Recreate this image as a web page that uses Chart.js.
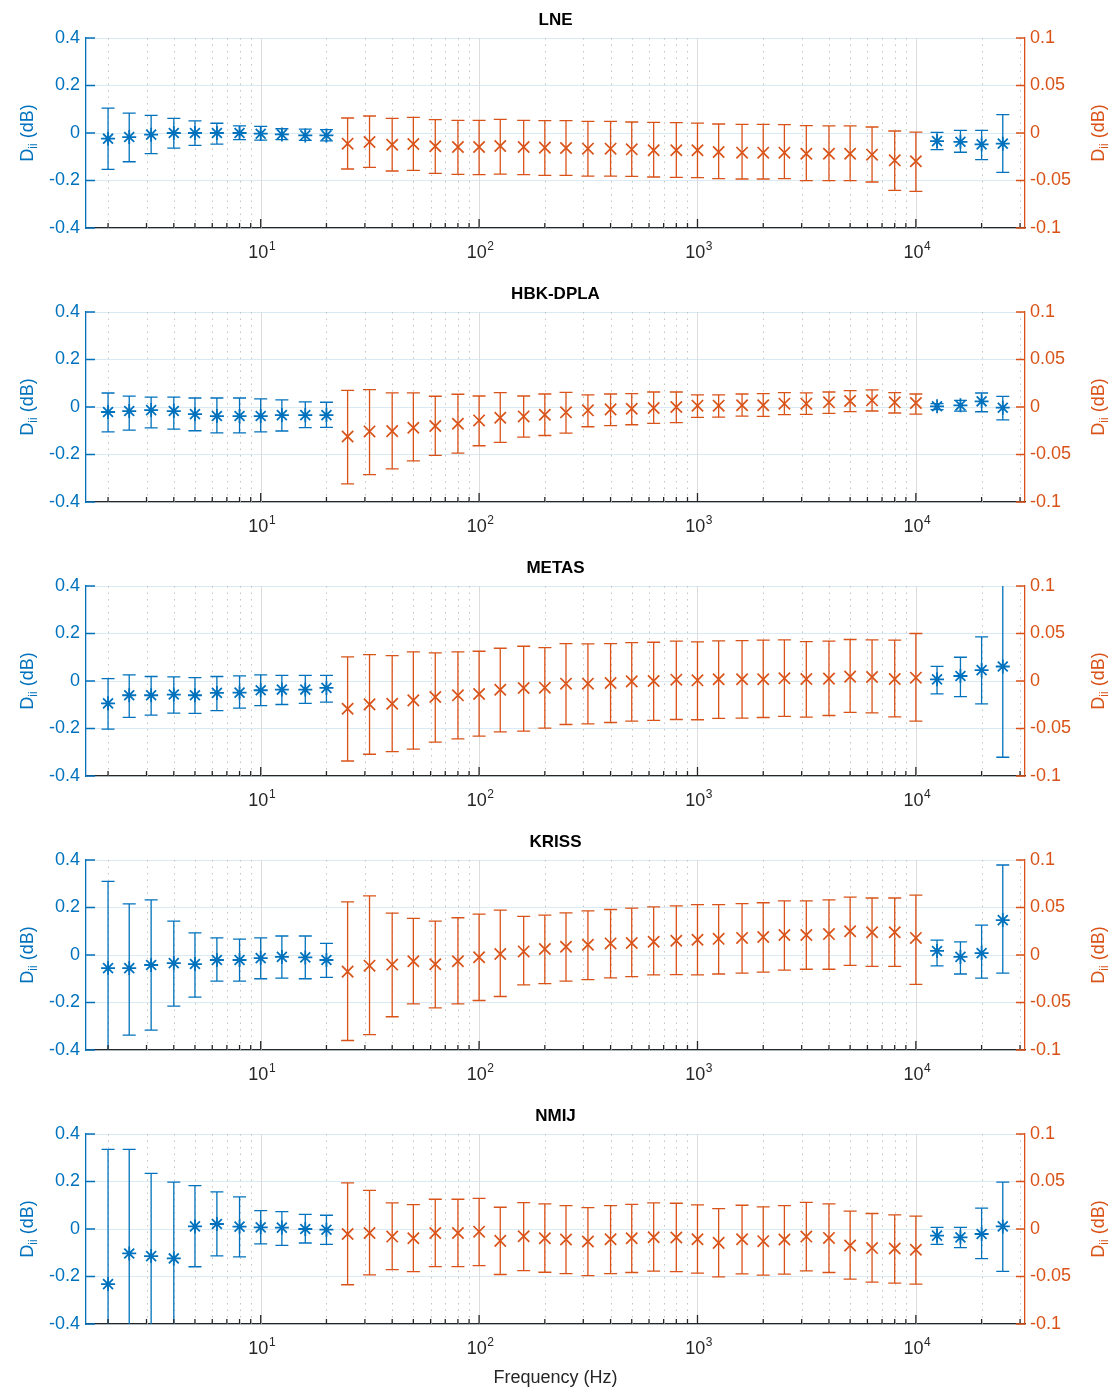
<!DOCTYPE html>
<html>
<head>
<meta charset="utf-8">
<script src="https://cdn.jsdelivr.net/npm/chart.js@4/dist/chart.umd.min.js"></script>
<style>
  html, body { margin: 0; padding: 0; background: #fff; }
  #wrap { position: relative; width: 1118px; height: 1392px; }
  #wrap canvas { position: absolute; left: 0; }
</style>
</head>
<body>
<div id="wrap"></div>
<script>
// Frequencies (Hz): blue = low + high bands on the left axis, red = mid band on the right axis
const freqBlue = [2, 2.5, 3.15, 4, 5, 6.3, 8, 10, 12.5, 16, 20, 12500, 16000, 20000, 25000]
const freqRed = [25, 31.5, 40, 50, 63, 80, 100, 125, 160, 200, 250, 315, 400, 500, 630, 800,
  1000, 1250, 1600, 2000, 2500, 3150, 4000, 5000, 6300, 8000, 10000]

const labs = ['LNE', 'HBK-DPLA', 'METAS', 'KRISS', 'NMIJ']
const leftTicks = [-0.4, -0.2, 0, 0.2, 0.4]
const rightTicks = [-0.1, -0.05, 0, 0.05, 0.1]
const majorTicks = [10, 100, 1000, 10000]
const majorExp = ['1', '2', '3', '4']

// LNE
const lneBlue = [-0.024, -0.017, -0.007, 0.0, 0.0, 0.0, 0.0, -0.003, -0.006, -0.01, -0.01, -0.034, -0.037, -0.048, -0.045]
const lneBlueUp = [0.105, 0.084, 0.074, 0.062, 0.051, 0.041, 0.03, 0.028, 0.018, 0.016, 0.014, 0.003, 0.011, 0.011, 0.077]
const lneBlueLo = [-0.153, -0.121, -0.087, -0.064, -0.052, -0.047, -0.028, -0.03, -0.028, -0.031, -0.033, -0.07, -0.081, -0.112, -0.166]
const lneRed = [-0.0112, -0.0095, -0.0123, -0.0116, -0.014, -0.0147, -0.0147, -0.0137, -0.0147, -0.0154, -0.0158, -0.0165, -0.0165, -0.0172,
  -0.0182, -0.0182, -0.0182, -0.02, -0.0207, -0.0207, -0.0207, -0.0218, -0.0218, -0.0218, -0.0228, -0.0288, -0.0298]
const lneRedUp = [0.0158, 0.0179, 0.0154, 0.0165, 0.014, 0.0133, 0.0133, 0.0144, 0.0133, 0.013, 0.013, 0.0123, 0.0123, 0.0116,
  0.0112, 0.0109, 0.0105, 0.0095, 0.0091, 0.0091, 0.0088, 0.0077, 0.0074, 0.0074, 0.0063, 0.0021, 0.001]
const lneRedLo = [-0.0379, -0.0361, -0.04, -0.0393, -0.0425, -0.0435, -0.0439, -0.0432, -0.0439, -0.0446, -0.0446, -0.0453, -0.0453, -0.0456,
  -0.0463, -0.0467, -0.047, -0.048, -0.0484, -0.0484, -0.048, -0.0502, -0.0502, -0.0502, -0.0516, -0.0604, -0.0614]

// HBK-DPLA
const hbkBlue = [-0.021, -0.017, -0.013, -0.017, -0.03, -0.038, -0.038, -0.038, -0.034, -0.034, -0.034, 0.003, 0.007, 0.024, -0.003]
const hbkBlueUp = [0.059, 0.046, 0.042, 0.042, 0.038, 0.038, 0.038, 0.034, 0.03, 0.022, 0.02, 0.014, 0.028, 0.059, 0.045]
const hbkBlueLo = [-0.105, -0.097, -0.088, -0.093, -0.1, -0.109, -0.109, -0.105, -0.101, -0.087, -0.086, -0.011, -0.017, -0.02, -0.054]
const hbkRed = [-0.031, -0.0257, -0.0254, -0.0218, -0.02, -0.0176, -0.0141, -0.0113, -0.0099, -0.0081, -0.0056, -0.0035, -0.0025, -0.0018,
  -0.001, 0, 0.0014, 0.0014, 0.0018, 0.0018, 0.0035, 0.0035, 0.0049, 0.0063, 0.007, 0.0049, 0.0042]
const hbkRedUp = [0.0176, 0.0183, 0.0148, 0.0148, 0.0113, 0.0134, 0.0116, 0.0151, 0.0116, 0.0137, 0.0155, 0.0127, 0.0137, 0.0141,
  0.0158, 0.0158, 0.0127, 0.0127, 0.0137, 0.0141, 0.0151, 0.0148, 0.0158, 0.0173, 0.018, 0.0151, 0.0137]
const hbkRedLo = [-0.081, -0.0711, -0.0651, -0.0567, -0.051, -0.0486, -0.0408, -0.0373, -0.0317, -0.03, -0.0275, -0.0208, -0.0197, -0.0187,
  -0.0173, -0.0165, -0.0109, -0.0106, -0.0095, -0.0099, -0.0081, -0.0077, -0.0067, -0.0049, -0.0042, -0.0063, -0.0074]

// METAS
const metasBlue = [-0.094, -0.06, -0.06, -0.057, -0.06, -0.05, -0.049, -0.039, -0.036, -0.036, -0.029, 0.007, 0.021, 0.046, 0.061]
const metasBlueUp = [0.01, 0.026, 0.019, 0.017, 0.014, 0.019, 0.022, 0.026, 0.024, 0.024, 0.024, 0.062, 0.1, 0.186, 0.45]
const metasBlueLo = [-0.203, -0.153, -0.144, -0.135, -0.136, -0.125, -0.114, -0.104, -0.099, -0.094, -0.089, -0.054, -0.066, -0.096, -0.321]
const metasRed = [-0.0292, -0.0246, -0.0239, -0.0204, -0.0169, -0.0151, -0.0137, -0.0092, -0.0074, -0.007, -0.0028, -0.0028, -0.0021, -0.0004,
  0, 0.0014, 0.0007, 0.0018, 0.0018, 0.0018, 0.0028, 0.0021, 0.0025, 0.0046, 0.0042, 0.0021, 0.0035]
const metasRedUp = [0.0254, 0.0278, 0.0268, 0.0306, 0.0296, 0.0306, 0.0313, 0.0345, 0.0366, 0.0352, 0.0394, 0.039, 0.0394, 0.0405,
  0.0408, 0.0419, 0.0412, 0.0423, 0.0426, 0.043, 0.0433, 0.0415, 0.0419, 0.0437, 0.0433, 0.043, 0.05]
const metasRedLo = [-0.0842, -0.0771, -0.0743, -0.0718, -0.0644, -0.0609, -0.0581, -0.0535, -0.0528, -0.0496, -0.0458, -0.0451, -0.0437, -0.0423,
  -0.0415, -0.0405, -0.0408, -0.0394, -0.0391, -0.0384, -0.0373, -0.038, -0.0363, -0.0331, -0.0335, -0.0377, -0.0423]

// KRISS
const krissBlue = [-0.055, -0.055, -0.042, -0.034, -0.038, -0.021, -0.021, -0.013, -0.008, -0.01, -0.021, 0.017, -0.008, 0.008, 0.147]
const krissBlueUp = [0.31, 0.215, 0.232, 0.143, 0.093, 0.072, 0.067, 0.072, 0.08, 0.08, 0.049, 0.063, 0.055, 0.126, 0.379]
const krissBlueLo = [-0.45, -0.337, -0.316, -0.215, -0.177, -0.11, -0.11, -0.1, -0.097, -0.1, -0.094, -0.046, -0.08, -0.097, -0.076]
const krissRed = [-0.0175, -0.0112, -0.0101, -0.0066, -0.0098, -0.0066, -0.0024, 0.001, 0.0038, 0.0063, 0.0087, 0.0108, 0.0122, 0.0126,
  0.014, 0.015, 0.016, 0.017, 0.018, 0.019, 0.021, 0.021, 0.022, 0.025, 0.024, 0.024, 0.018]
const krissRedUp = [0.056, 0.0622, 0.044, 0.0385, 0.0357, 0.0392, 0.043, 0.0472, 0.0406, 0.042, 0.0444, 0.0465, 0.0479, 0.0493,
  0.0507, 0.0517, 0.053, 0.053, 0.054, 0.055, 0.057, 0.057, 0.058, 0.061, 0.06, 0.06, 0.063]
const krissRedLo = [-0.09, -0.0839, -0.065, -0.0514, -0.0556, -0.0514, -0.0479, -0.0437, -0.0315, -0.0301, -0.0276, -0.0259, -0.0241, -0.0227,
  -0.021, -0.0206, -0.021, -0.02, -0.019, -0.018, -0.016, -0.015, -0.015, -0.011, -0.012, -0.012, -0.031]

// NMIJ
const nmijBlue = [-0.232, -0.103, -0.114, -0.124, 0.011, 0.021, 0.01, 0.007, 0.006, 0, -0.003, -0.028, -0.035, -0.021, 0.011]
const nmijBlueUp = [0.335, 0.335, 0.234, 0.197, 0.183, 0.156, 0.135, 0.077, 0.073, 0.062, 0.058, 0.007, 0.007, 0.0875, 0.197]
const nmijBlueLo = [-0.45, -0.45, -0.45, -0.45, -0.159, -0.113, -0.117, -0.063, -0.069, -0.059, -0.065, -0.065, -0.078, -0.125, -0.178]
const nmijRed = [-0.0052, -0.0042, -0.008, -0.0097, -0.0042, -0.0042, -0.0028, -0.0125, -0.0076, -0.0097, -0.0111, -0.0132, -0.0108, -0.0097,
  -0.0087, -0.009, -0.0108, -0.0146, -0.0108, -0.0128, -0.0111, -0.008, -0.0094, -0.0174, -0.0201, -0.0205, -0.0219]
const nmijRedUp = [0.0486, 0.0406, 0.0274, 0.0257, 0.0313, 0.0313, 0.0323, 0.0229, 0.0278, 0.0264, 0.0247, 0.0226, 0.0247, 0.026,
  0.0274, 0.0271, 0.0253, 0.0215, 0.025, 0.0233, 0.0247, 0.0281, 0.0264, 0.0188, 0.0163, 0.0149, 0.0135]
const nmijRedLo = [-0.0587, -0.0483, -0.0427, -0.0448, -0.0396, -0.0396, -0.0385, -0.0479, -0.0438, -0.0455, -0.0469, -0.049, -0.0469, -0.0458,
  -0.0444, -0.0448, -0.0465, -0.0503, -0.0472, -0.0486, -0.0476, -0.0441, -0.0458, -0.0528, -0.0559, -0.0569, -0.058]

const blueSets = [
  [lneBlue, lneBlueUp, lneBlueLo], [hbkBlue, hbkBlueUp, hbkBlueLo], [metasBlue, metasBlueUp, metasBlueLo],
  [krissBlue, krissBlueUp, krissBlueLo], [nmijBlue, nmijBlueUp, nmijBlueLo]
]
const redSets = [
  [lneRed, lneRedUp, lneRedLo], [hbkRed, hbkRedUp, hbkRedLo], [metasRed, metasRedUp, metasRedLo],
  [krissRed, krissRedUp, krissRedLo], [nmijRed, nmijRedUp, nmijRedLo]
]

const BLUE = '#0072BD'
const ORANGE = '#D95319'
const AXIS = '#262626'
const FONT = '"Liberation Sans", Arial, sans-serif'
const CAP = 6.5
const PANEL_H = 274

// minor + major ticks of the log axis
const xTicks = []
for (let e = 0; e <= 4; e++) {
  for (let k = 1; k <= 9; k++) {
    const v = k * 10 ** e
    if (v >= 1.585 && v <= 31600) xTicks.push(v)
  }
}

// D_ii (dB) with a real subscript
const drawDLabel = (ctx, cx, cy, color) => {
  ctx.save()
  ctx.translate(cx, cy)
  ctx.rotate(-Math.PI / 2)
  ctx.fillStyle = color
  ctx.textAlign = 'left'
  ctx.textBaseline = 'alphabetic'
  const big = '18px ' + FONT
  const small = '12px ' + FONT
  ctx.font = big
  const wD = ctx.measureText('D').width
  const wRest = ctx.measureText(' (dB)').width
  ctx.font = small
  const wii = ctx.measureText('ii').width
  let x = -(wD + wii + wRest) / 2
  ctx.font = big
  ctx.fillText('D', x, 0)
  x += wD
  ctx.font = small
  ctx.fillText('ii', x, 4)
  x += wii
  ctx.font = big
  ctx.fillText(' (dB)', x, 0)
  ctx.restore()
}

const panelDecor = {
  id: 'panelDecor',
  beforeDatasetsDraw(chart) {
    const { ctx, chartArea: a, scales } = chart
    ctx.save()
    ctx.beginPath()
    ctx.rect(a.left, a.top, a.width, a.height)
    ctx.clip()
    // vertical grid: solid at decades, dotted at minors
    xTicks.forEach(v => {
      const px = Math.round(scales.x.getPixelForValue(v)) + 0.5
      const major = majorTicks.includes(v)
      ctx.strokeStyle = major ? '#DCDCDC' : '#C2C2C2'
      ctx.lineWidth = 1
      ctx.setLineDash(major ? [] : [1.5, 5])
      ctx.beginPath()
      ctx.moveTo(px, a.top)
      ctx.lineTo(px, a.bottom)
      ctx.stroke()
    })
    ctx.setLineDash([])
    // error bars
    chart.data.datasets.forEach((ds, d) => {
      const meta = chart.getDatasetMeta(d)
      const ys = scales[ds.yAxisID]
      ctx.strokeStyle = ds.borderColor
      ctx.lineWidth = 1.3
      meta.data.forEach((pt, j) => {
        const x = pt.x
        const top = ys.getPixelForValue(ds.errUp[j])
        const bot = ys.getPixelForValue(ds.errLo[j])
        ctx.beginPath()
        ctx.moveTo(x, top)
        ctx.lineTo(x, bot)
        ctx.moveTo(x - CAP, top)
        ctx.lineTo(x + CAP, top)
        ctx.moveTo(x - CAP, bot)
        ctx.lineTo(x + CAP, bot)
        ctx.stroke()
      })
    })
    ctx.restore()
  },
  afterDatasetsDraw(chart) {
    // inward tick marks
    const { ctx, chartArea: a, scales } = chart
    ctx.save()
    ctx.lineWidth = 1.3
    ctx.strokeStyle = AXIS
    ctx.beginPath()
    xTicks.forEach(v => {
      const px = scales.x.getPixelForValue(v)
      const len = majorTicks.includes(v) ? 9 : 5
      ctx.moveTo(px, a.bottom)
      ctx.lineTo(px, a.bottom - len)
    })
    ctx.stroke()
    ctx.strokeStyle = BLUE
    ctx.beginPath()
    leftTicks.forEach(v => {
      const py = scales.yL.getPixelForValue(v)
      ctx.moveTo(a.left, py)
      ctx.lineTo(a.left + 9, py)
    })
    ctx.stroke()
    ctx.strokeStyle = ORANGE
    ctx.beginPath()
    rightTicks.forEach(v => {
      const py = scales.yR.getPixelForValue(v)
      ctx.moveTo(a.right, py)
      ctx.lineTo(a.right - 9, py)
    })
    ctx.stroke()
    ctx.restore()
  },
  afterDraw(chart) {
    const { ctx, chartArea: a, scales } = chart
    const midY = (a.top + a.bottom) / 2
    ctx.save()
    ctx.fillStyle = '#000'
    ctx.font = 'bold 17px ' + FONT
    ctx.textAlign = 'center'
    ctx.textBaseline = 'middle'
    ctx.fillText(chart.options.panelTitle, (a.left + a.right) / 2, 20)
    // decade labels 10^n with a raised exponent
    ctx.fillStyle = AXIS
    ctx.textAlign = 'left'
    ctx.textBaseline = 'alphabetic'
    majorTicks.forEach((v, k) => {
      const px = scales.x.getPixelForValue(v)
      ctx.font = '18px ' + FONT
      const wBase = ctx.measureText('10').width
      ctx.font = '12px ' + FONT
      const wExp = ctx.measureText(majorExp[k]).width
      const x0 = px - (wBase + wExp) / 2 + 1
      ctx.font = '18px ' + FONT
      ctx.fillText('10', x0, a.bottom + 30)
      ctx.font = '12px ' + FONT
      ctx.fillText(majorExp[k], x0 + wBase + 0.5, a.bottom + 22)
    })
    ctx.restore()
    drawDLabel(ctx, 33, midY, BLUE)
    drawDLabel(ctx, 1104, midY, ORANGE)
  }
}

const wrap = document.getElementById('wrap')

labs.forEach((lab, i) => {
  const last = i === labs.length - 1
  const canvas = document.createElement('canvas')
  canvas.width = 1118
  canvas.height = last ? 1392 - PANEL_H * i : PANEL_H
  canvas.style.top = (PANEL_H * i) + 'px'
  wrap.appendChild(canvas)

  const [bv, bu, bl] = blueSets[i]
  const [rv, ru, rl] = redSets[i]

  new Chart(canvas, {
    type: 'scatter',
    data: {
      datasets: [
        {
          data: freqBlue.map((f, j) => ({ x: f, y: bv[j] })),
          errUp: bu,
          errLo: bl,
          yAxisID: 'yL',
          pointStyle: 'star',
          pointRadius: 7,
          borderWidth: 1.8,
          borderColor: BLUE,
          backgroundColor: BLUE
        },
        {
          data: freqRed.map((f, j) => ({ x: f, y: rv[j] })),
          errUp: ru,
          errLo: rl,
          yAxisID: 'yR',
          pointStyle: 'crossRot',
          pointRadius: 8,
          borderWidth: 1.7,
          borderColor: ORANGE,
          backgroundColor: ORANGE
        }
      ]
    },
    options: {
      panelTitle: lab,
      responsive: false,
      animation: false,
      devicePixelRatio: 1,
      layout: { padding: { top: 38, left: 0, right: 0, bottom: 0 } },
      plugins: {
        legend: { display: false },
        tooltip: { enabled: false }
      },
      scales: {
        x: {
          type: 'logarithmic',
          position: 'bottom',
          min: 1.585,
          max: 31600,
          afterBuildTicks: s => { s.ticks = xTicks.map(v => ({ value: v })) },
          afterFit: s => { s.height = last ? 68 : 46 },
          grid: { drawOnChartArea: false, drawTicks: false },
          border: { color: AXIS, width: 1.3 },
          ticks: {
            autoSkip: false,
            maxRotation: 0,
            padding: 10,
            color: AXIS,
            font: { family: FONT, size: 17 },
            callback: () => ''
          },
          title: {
            display: last,
            text: 'Frequency (Hz)',
            color: AXIS,
            font: { family: FONT, size: 18 },
            padding: { top: 2, bottom: 3 }
          }
        },
        yL: {
          type: 'linear',
          position: 'left',
          min: -0.4,
          max: 0.4,
          afterBuildTicks: s => { s.ticks = leftTicks.map(v => ({ value: v })) },
          afterFit: s => { s.width = 86 },
          grid: { color: '#D9EAF5', lineWidth: 1, drawTicks: false },
          border: { color: BLUE, width: 1.3 },
          ticks: {
            color: BLUE,
            padding: 6,
            font: { family: FONT, size: 18 },
            callback: v => String(+v.toFixed(2))
          }
        },
        yR: {
          type: 'linear',
          position: 'right',
          min: -0.1,
          max: 0.1,
          afterBuildTicks: s => { s.ticks = rightTicks.map(v => ({ value: v })) },
          afterFit: s => { s.width = 93 },
          grid: { drawOnChartArea: false, drawTicks: false },
          border: { color: ORANGE, width: 1.3 },
          ticks: {
            color: ORANGE,
            padding: 5,
            font: { family: FONT, size: 18 },
            callback: v => String(+v.toFixed(2))
          }
        }
      }
    },
    plugins: [panelDecor]
  })
})
</script>
</body>
</html>
